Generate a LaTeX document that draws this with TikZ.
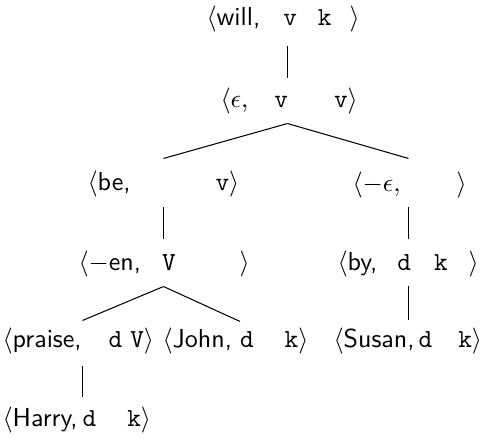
\documentclass[tikz,border=0pt]{standalone}
\newdimen\pxu
\pxu=0.3846pt
\newcommand{\lxw}[1]{\textsf{#1}}
\newcommand{\lxf}[1]{\texttt{#1}}
\newcommand{\lxg}[1]{\hspace{#1\pxu}}
\begin{document}
\begin{tikzpicture}[x=0.3846pt,y=-0.3846pt,
  lex/.style={inner sep=0pt,anchor=west},
  edge/.style={line width=0.4pt}]
\useasboundingbox (0,0) rectangle (480,438);
\node[lex] (will)   at (206,19)  {$\langle$\lxw{will,}\lxg{23}\lxf{v}\lxg{21}\lxf{k}\lxg{18}$\rangle$};
\node[lex] (eps)    at (220,101) {$\langle\epsilon$,\lxg{26}\lxf{v}\lxg{46}\lxf{v}$\rangle$};
\node[lex] (be)     at (87,184)  {$\langle$\lxw{be,}\lxg{85}\lxf{v}$\rangle$};
\node[lex] (meps)   at (352,185) {$\langle-\epsilon$,\lxg{56}$\rangle$};
\node[lex] (en)     at (78,264)  {$\langle-$\lxw{en,}\lxg{21}\lxf{V}\lxg{64}$\rangle$};
\node[lex] (by)     at (337,264) {$\langle$\lxw{by,}\lxg{20}\lxf{d}\lxg{23}\lxf{k}\lxg{21}$\rangle$};
\node[lex] (praise) at (2,341)   {$\langle$\lxw{praise,}\lxg{27}\lxf{d}\lxg{8}\lxf{V}$\rangle$};
\node[lex] (john)   at (162,341) {$\langle$\lxw{John,}\lxg{8}\lxf{d}\lxg{31}\lxf{k}$\rangle$};
\node[lex] (susan)  at (333,341) {$\langle$\lxw{Susan,}\lxg{4}\lxf{d}\lxg{26}\lxf{k}$\rangle$};
\node[lex] (harry)  at (2,420)   {$\langle$\lxw{Harry,}\lxg{5}\lxf{d}\lxg{31}\lxf{k}$\rangle$};
\draw[edge] ([shift={(81.5,13)}]will.south west) -- ([shift={(67.5,-9)}]eps.north west);
\draw[edge] ([shift={(67.5,9)}]eps.south west) -- ([shift={(76.5,-12)}]be.north west);
\draw[edge] ([shift={(67.5,9)}]eps.south west) -- ([shift={(56.5,-13)}]meps.north west);
\draw[edge] ([shift={(76.5,9)}]be.south west) -- ([shift={(85.5,-11)}]en.north west);
\draw[edge] ([shift={(56.5,8)}]meps.south west) -- ([shift={(71.5,-11)}]by.north west);
\draw[edge] ([shift={(85.5,9)}]en.south west) -- ([shift={(80.5,-7)}]praise.north west);
\draw[edge] ([shift={(85.5,9)}]en.south west) -- ([shift={(78,-6)}]john.north west);
\draw[edge] ([shift={(71.5,8)}]by.south west) -- ([shift={(75.5,-7)}]susan.north west);
\draw[edge] ([shift={(80.5,11)}]praise.south west) -- ([shift={(80.5,-9)}]harry.north west);
\end{tikzpicture}
\end{document}
